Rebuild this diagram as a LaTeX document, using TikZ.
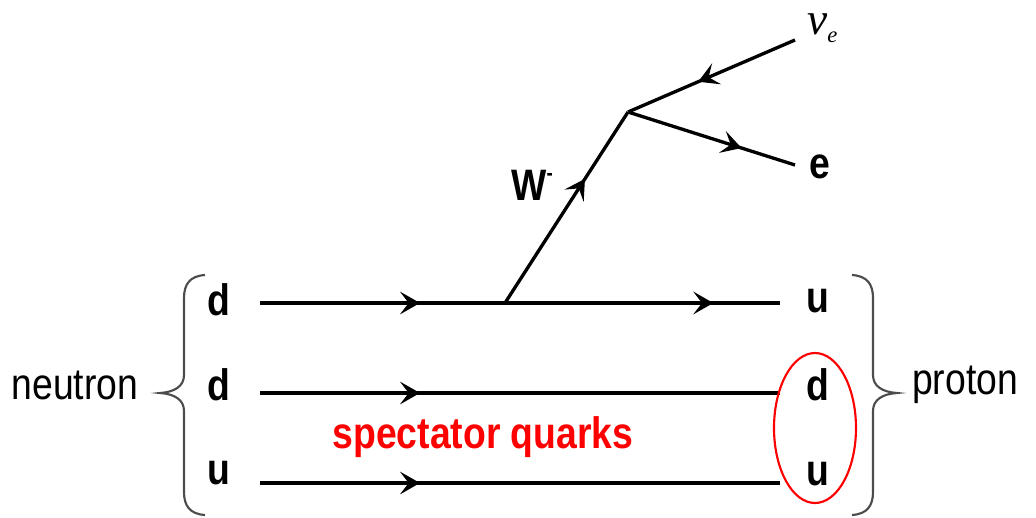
\documentclass[tikz,border=0pt]{standalone}
\usepackage{graphicx}
\usepackage{fontspec}
\setmainfont{Liberation Sans}
\newfontfamily\serifit{Liberation Serif}
\usetikzlibrary{arrows.meta,decorations.markings}
\tikzset{
  lbl/.style={inner sep=0pt, font=\fontsize{28}{30}\selectfont},
  qk/.style={inner sep=0pt, font=\fontsize{28}{30}\selectfont\bfseries},
  fline/.style={line width=2.5pt},
  brace/.style={line width=1.6pt, draw=black!70},
  mytip/.tip={Stealth[length=15pt,width=17pt,inset=6.5pt]},
  midarrow/.style={postaction={decorate},decoration={markings,mark=at position #1 with {\arrow{mytip}}}},
}
\newcommand{\vs}[1]{\scalebox{1}[1.18]{#1}}
\begin{document}
\begin{tikzpicture}[x=0.75pt,y=-0.75pt]
\useasboundingbox (0,0) rectangle (1036,518);
% labels
\node[lbl] (neutron) at (75,385) {\vs{neutron}};
\node[lbl] (proton) at (965,385) {\vs{proton}};
\node[qk] (dA) at (219,300) {\vs{d}};
\node[qk] (dB) at (219,385) {\vs{d}};
\node[qk] (uC) at (219,473) {\vs{u}};
\node[qk] (uR) at (818,301) {\vs{u}};
\node[qk] (dR) at (818,385) {\vs{d}};
\node[qk] (uR2) at (818,474) {\vs{u}};
\node[qk, text=red] (spect) at (483,437) {\vs{spectator quarks}};
\node[qk] (Wlbl) at (532,185) {\vs{W\raisebox{0.45em}{\fontsize{14}{14}\selectfont -}}};
\node[qk] (elbl) at (820,167) {\vs{e}};
\node[inner sep=0pt, anchor=base west] (nulbl) at (807,34) {\serifit\itshape\fontsize{34}{36}\selectfont ν\raisebox{-0.18em}{\fontsize{17}{18}\selectfont e}};
% line ends
\coordinate (a1) at (260,303);
\coordinate (b1) at (780,303);
\coordinate (a2) at (260,393);
\coordinate (b2) at (780,393);
\coordinate (a3) at (260,483);
\coordinate (b3) at (780,483);
\coordinate (v1) at (505,303);
\coordinate (v2) at (628,112);
\coordinate (nuend) at (795,40);
\coordinate (eend) at (795,165);
% quark lines
\draw[fline, postaction={decorate}, decoration={markings,
   mark=at position 120pt with {\arrow{mytip}},
   mark=at position 340pt with {\arrow{mytip}}}] (a1) -- (b1);
\draw[fline, midarrow=120pt] (a2) -- (b2);
\draw[fline, midarrow=120pt] (a3) -- (b3);
% W and leptons
\draw[fline, midarrow=0.65] (v1) -- (v2);
\draw[fline, midarrow=0.58] (nuend) -- (v2);
\draw[fline, midarrow=0.68] (v2) -- (eend);
% ellipse
\draw[red, line width=1.6pt] (815,428) ellipse [x radius=41, y radius=75];
% braces
\draw[brace] (205,275) .. controls (190,276) and (184,284) .. (184,298)
  -- (184,375) .. controls (184,386) and (175,392) .. (160,393)
  .. controls (175,394) and (184,400) .. (184,411)
  -- (184,492) .. controls (184,506) and (190,514) .. (205,515);
\draw[brace] (852,275) .. controls (867,276) and (873,284) .. (873,298)
  -- (873,375) .. controls (873,386) and (882,392) .. (897,393)
  .. controls (882,394) and (873,400) .. (873,411)
  -- (873,492) .. controls (873,506) and (867,514) .. (852,515);
\end{tikzpicture}
\end{document}
